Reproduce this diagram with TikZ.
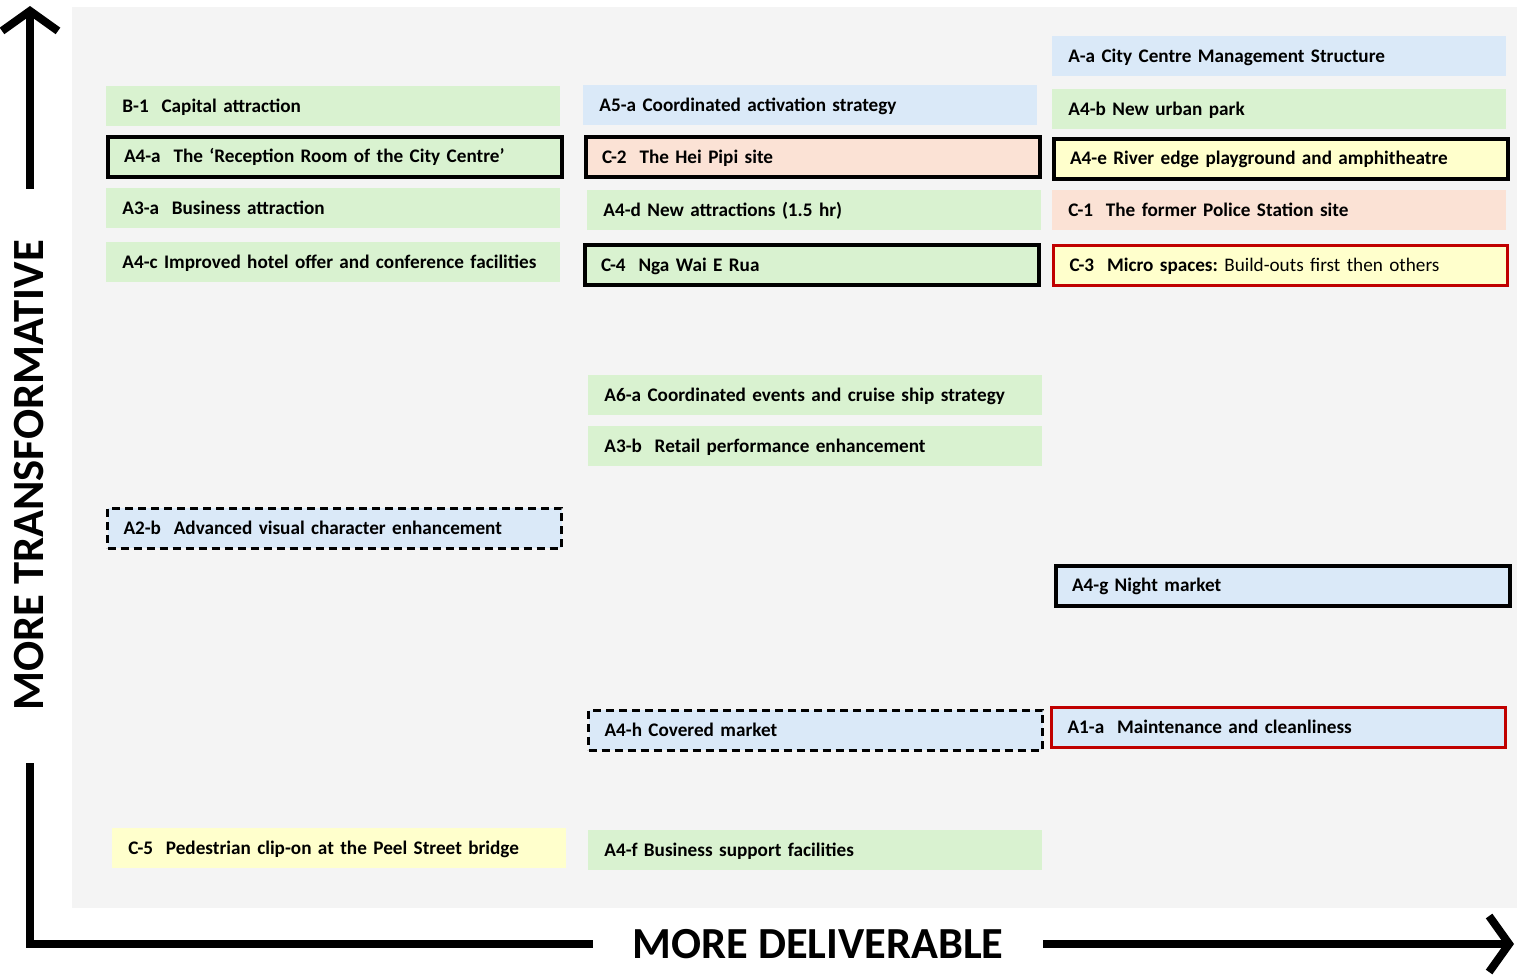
\documentclass[tikz,border=0pt]{standalone}
\usepackage{fontspec}
\setmainfont{Carlito}
\usetikzlibrary{arrows.meta}

\definecolor{boxgreen}{HTML}{D9F2D0}
\definecolor{boxblue}{HTML}{DAE9F8}
\definecolor{boxsalmon}{HTML}{FBE2D5}
\definecolor{boxyellow}{HTML}{FFFFCC}
\definecolor{panelgray}{HTML}{F4F4F4}
\definecolor{edgered}{HTML}{C00000}

\tikzset{
  item/.style={anchor=west, rectangle, minimum height=20pt, text width=211pt,
    inner xsep=8pt, inner ysep=0pt, align=left, text height=7.6pt, text depth=1.6pt,
    font=\fontsize{9.6}{11}\selectfont\bfseries},
  green/.style={item, fill=boxgreen},
  blue/.style={item, fill=boxblue},
  salmon/.style={item, fill=boxsalmon},
  yellow/.style={item, fill=boxyellow},
  heavy/.style={draw=black, line width=2pt},
  redline/.style={draw=edgered, line width=1.5pt},
  dashline/.style={draw=black, line width=1.5pt, dash pattern=on 4pt off 2.5pt},
  axislabel/.style={fill=white, inner sep=0pt, font=\bfseries}
}

\begin{document}
\begin{tikzpicture}[x=0.5pt, y=-0.5pt]
  \useasboundingbox (0,0) rectangle (1517,975);

  % fondo gris
  \fill[panelgray] (72,7) rectangle (1517,908);

  % ejes
  \draw[line width=4pt, {Straight Barb[length=10pt,width=28pt]}-{Straight Barb[length=10pt,width=28pt]}]
    (30,6) -- (30,944) -- (1514,944);
  \node[axislabel, rotate=90, minimum width=287pt, minimum height=25pt,
        font=\fontsize{22.3}{25}\selectfont\bfseries] (ytitle) at (29,475.5) {MORE TRANSFORMATIVE};
  \node[axislabel, minimum width=225pt, minimum height=36pt,
        font=\fontsize{22.2}{25}\selectfont\bfseries] (xtitle) at (818,944) {MORE DELIVERABLE};

  % primera columna
  \node[green] (b1) at (106,106) {B-1~~Capital attraction};
  \node[green, heavy] (a4a) at (106,156.5) {A4-a~~The ‘Reception Room of the City Centre’};
  \node[green] (a3a) at (106,208) {A3-a~~Business attraction};
  \node[green] (a4c) at (106,262) {A4-c Improved hotel offer and conference facilities};
  \node[blue, dashline] (a2b) at (106,528) {A2-b~~Advanced visual character enhancement};
  \node[yellow] (c5) at (112,848) {C-5~~Pedestrian clip-on at the Peel Street bridge};

  % segunda columna
  \node[blue] (a5a) at (583,105) {A5-a Coordinated activation strategy};
  \node[salmon, heavy] (c2) at (584,157) {C-2~~The Hei Pipi site};
  \node[green] (a4d) at (587,210) {A4-d New attractions (1.5 hr)};
  \node[green, heavy] (c4) at (583,265) {C-4~~Nga Wai E Rua};
  \node[green] (a6a) at (588,395) {A6-a Coordinated events and cruise ship strategy};
  \node[green] (a3b) at (588,446) {A3-b~~Retail performance enhancement};
  \node[blue, dashline] (a4h) at (587,730) {A4-h Covered market};
  \node[green] (a4f) at (588,850) {A4-f Business support facilities};

  % tercera columna
  \node[blue] (aa) at (1052,56) {A-a City Centre Management Structure};
  \node[green] (a4b) at (1052,109) {A4-b New urban park};
  \node[yellow, heavy] (a4e) at (1052,158.5) {A4-e River edge playground and amphitheatre};
  \node[salmon] (c1) at (1052,210) {C-1~~The former Police Station site};
  \node[yellow, redline] (c3) at (1052,265) {C-3~~Micro spaces:\mdseries\ Build-outs first then others};
  \node[blue, heavy] (a4g) at (1054,585.5) {A4-g Night market};
  \node[blue, redline] (a1a) at (1050,727.5) {A1-a~~Maintenance and cleanliness};
\end{tikzpicture}
\end{document}
